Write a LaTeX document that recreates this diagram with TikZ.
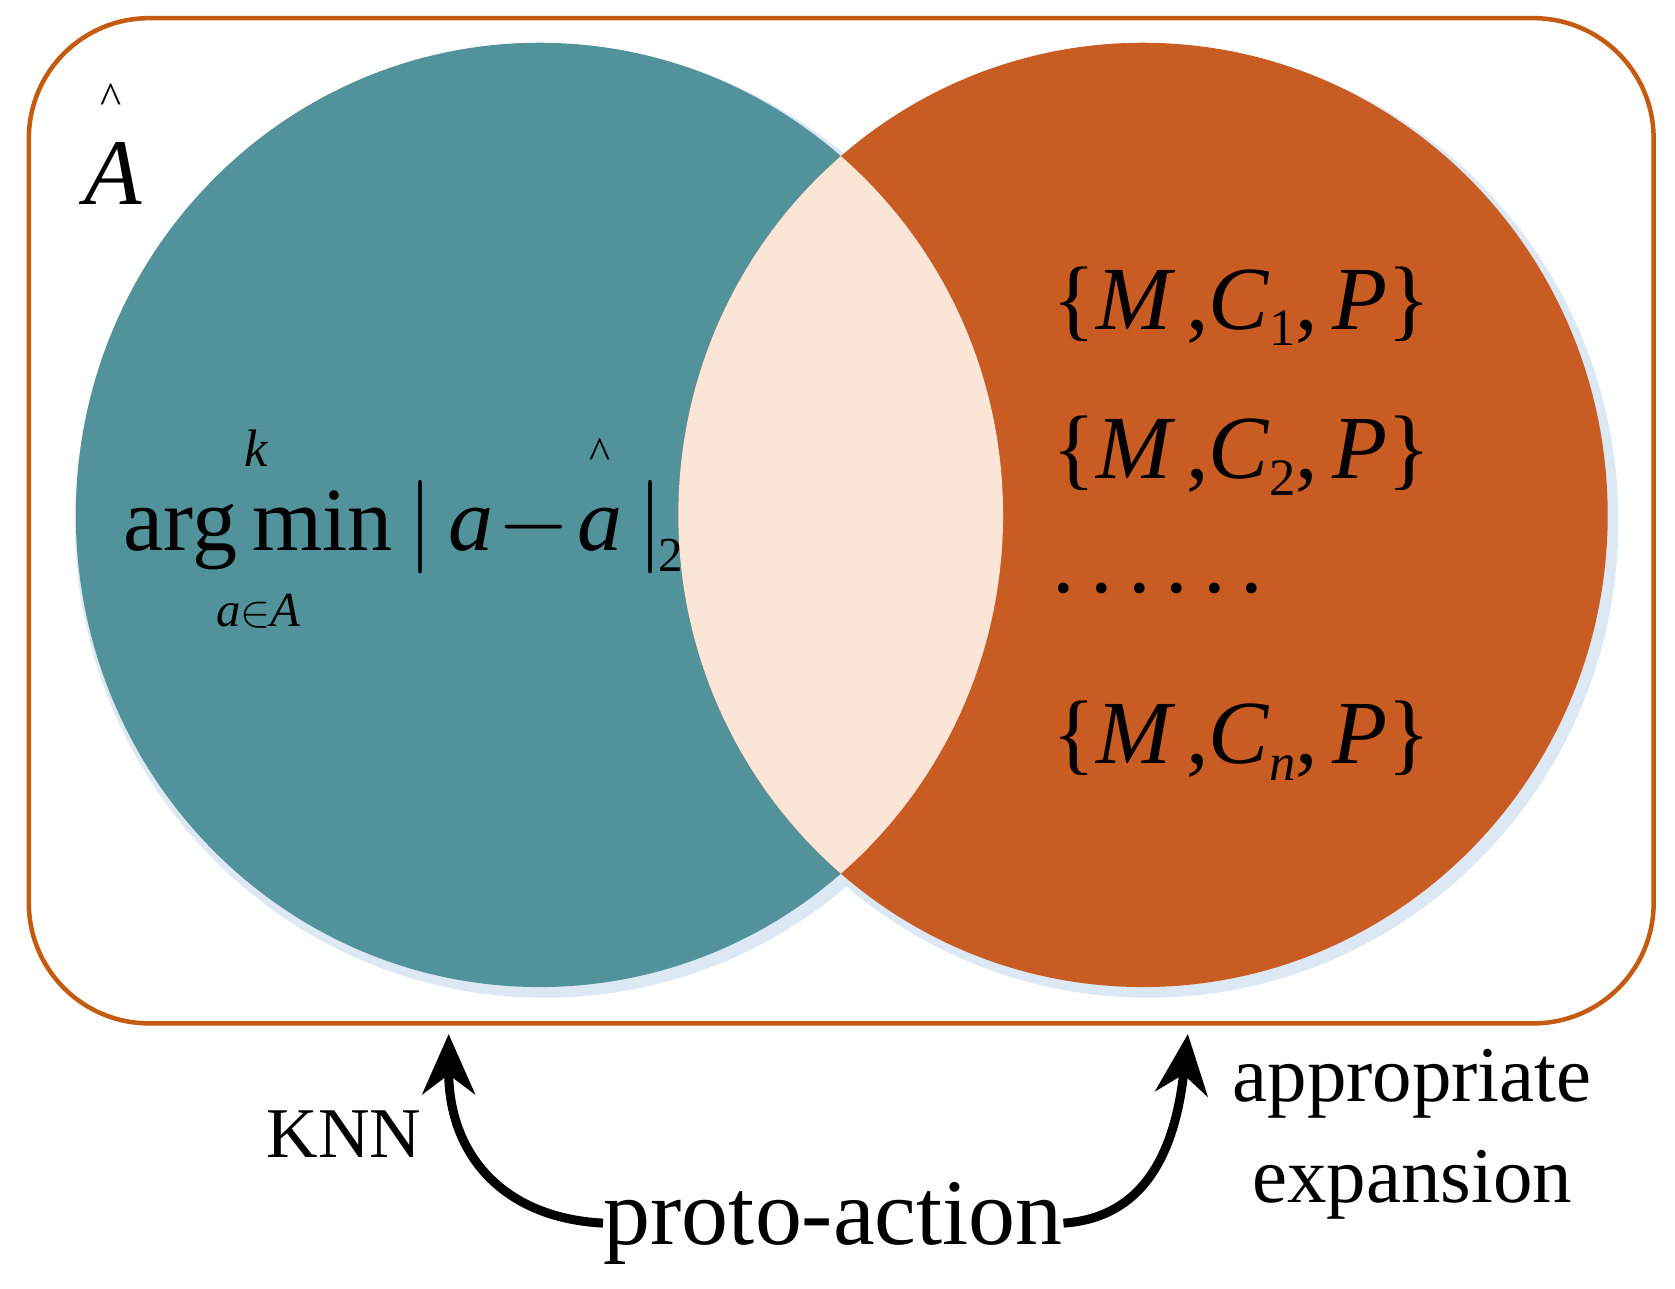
\documentclass[tikz,border=0pt]{standalone}
\usepackage{fontspec}
\setmainfont{Liberation Serif}
\usetikzlibrary{arrows.meta}
\begin{document}
\begin{tikzpicture}[x=0.01cm,y=-0.01cm,
  txt/.style={inner sep=0pt,text=black},
  arr/.style={line width=2.4pt,-{Stealth[length=16pt,width=14pt]}}]
\useasboundingbox (0,0) rectangle (1568,1206);
\definecolor{teal1}{HTML}{52929A}
\definecolor{org1}{HTML}{C85C22}
\definecolor{frame1}{HTML}{C55A11}
\definecolor{lens}{HTML}{FAE5D6}
\definecolor{glow}{HTML}{DCE8F4}
% glow
\fill[glow] (510,488) ellipse [x radius=440,y radius=446];
\fill[glow] (1075,488) ellipse [x radius=440,y radius=446];
\fill[teal1] (505,482) ellipse [x radius=434,y radius=442];
\fill[org1] (1070,482) ellipse [x radius=435,y radius=442];
\begin{scope}
\clip (505,482) ellipse [x radius=434,y radius=442];
\fill[lens] (1070,482) ellipse [x radius=435,y radius=442];
\end{scope}
\draw[frame1,line width=1.2pt,rounded corners=32pt] (27,17) rectangle (1548,958);
% texts
\node[txt,font=\fontsize{25}{25}\selectfont\itshape] (Ahat) at (106,162) {A};
\node[txt,font=\fontsize{12}{12}\selectfont] (Ahatc) at (104,92) {\^{}};
\node[txt,font=\fontsize{24}{24}\selectfont,anchor=base west] (am) at (115,515) {arg\,min\,$|$\,{\itshape a}\kern1pt$-$\kern2pt{\itshape a}\,$|$};
\node[txt,font=\fontsize{13}{13}\selectfont,anchor=base west] (two) at (616,535) {2};
\node[txt,font=\fontsize{12}{12}\selectfont] (hat2) at (562,425) {\^{}};
\node[txt,font=\fontsize{14}{14}\selectfont\itshape] (k) at (240,420) {k};
\node[txt,font=\fontsize{13}{13}\selectfont] (aA) at (242,572) {{\itshape a}$\in${\itshape A}};
\node[txt,font=\fontsize{24}{24}\selectfont,anchor=base west] (s1) at (985,308) {\{{\itshape M}\,,{\itshape C}\raisebox{-0.4ex}{\fontsize{14}{14}\selectfont 1},\,{\itshape P}\}};
\node[txt,font=\fontsize{24}{24}\selectfont,anchor=base west] (s2) at (985,448) {\{{\itshape M}\,,{\itshape C}\raisebox{-0.4ex}{\fontsize{14}{14}\selectfont 2},\,{\itshape P}\}};
\node[txt,font=\fontsize{24}{24}\selectfont,anchor=base west] (dots) at (985,555) {.\,.\,.\,.\,.\,.};
\node[txt,font=\fontsize{24}{24}\selectfont,anchor=base west] (sn) at (985,715) {\{{\itshape M}\,,{\itshape C}\raisebox{-0.4ex}{\fontsize{14}{14}\selectfont\itshape n},\,{\itshape P}\}};
\node[txt,font=\fontsize{19}{19}\selectfont] (knn) at (322,1062) {KNN};
\node[txt,font=\fontsize{21}{27}\selectfont,align=center] (app) at (1322,1062) {appropriate\\expansion};
\node[txt,font=\fontsize{25}{25}\selectfont] (proto) at (780,1145) {proto-action};
\coordinate (t1) at (420,968);
\coordinate (t2) at (1112,968);
\draw[arr] (proto.west) .. controls (470,1140) and (420,1080) .. (t1);
\draw[arr] (proto.east) .. controls (1070,1140) and (1100,1080) .. (t2);
\end{tikzpicture}
\end{document}
